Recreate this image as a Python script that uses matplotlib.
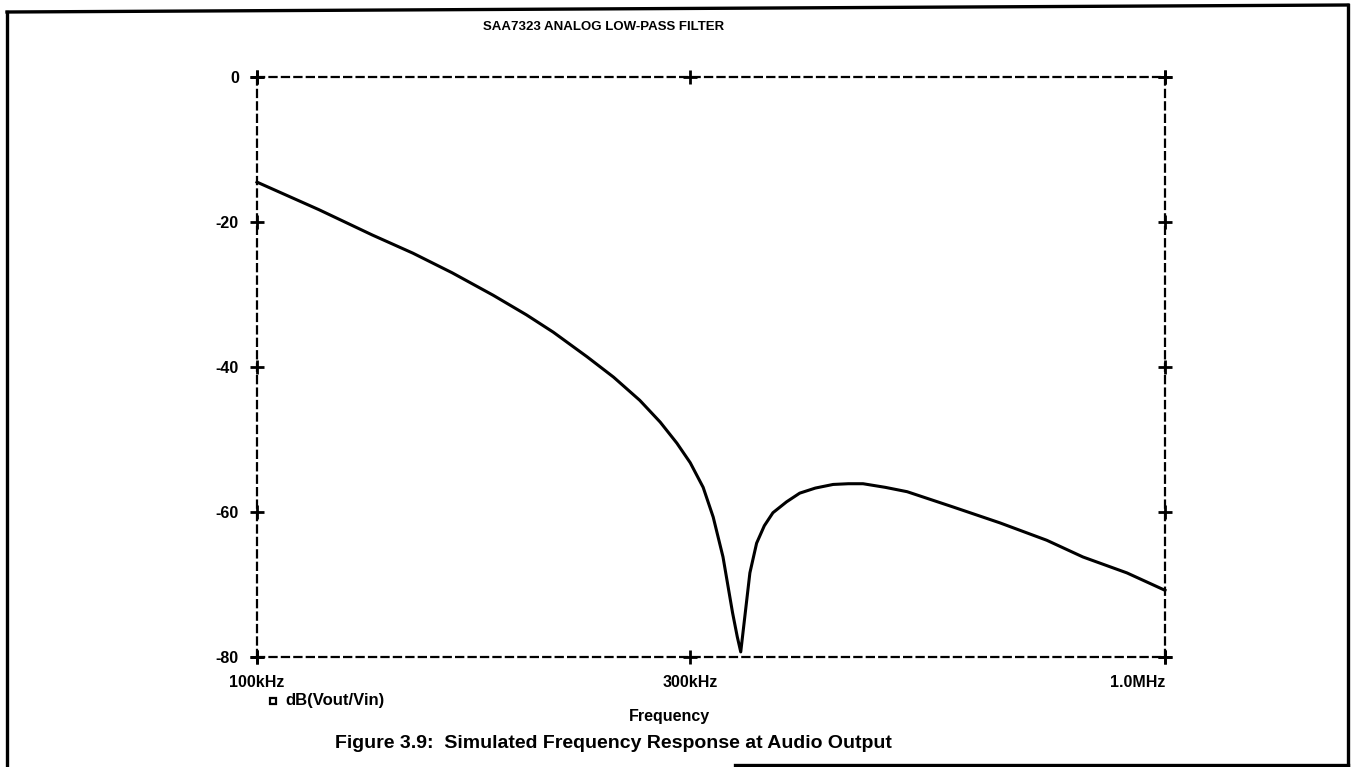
import matplotlib
matplotlib.use("Agg")
import matplotlib.pyplot as plt
from matplotlib.lines import Line2D

plt.rcParams["font.family"] = ["Liberation Sans", "DejaVu Sans"]
plt.rcParams["font.weight"] = "bold"

# Simulated response of the analog low-pass filter
freq_khz = [100, 117, 134, 148.5, 164, 182, 198, 212, 231, 247, 264, 278, 290,
            300, 310, 318, 326, 334, 338, 341, 349, 355, 362, 370, 383, 396,
            412, 431, 448, 465, 492, 520, 584, 658, 741, 812, 908, 1000]
gain_db = [-14.5, -18.3, -21.8, -24.3, -27.0, -30.1, -32.8, -35.2, -38.6, -41.4,
           -44.6, -47.6, -50.5, -53.2, -56.6, -60.7, -66.2, -73.9, -77.2, -79.3,
           -68.4, -64.3, -61.9, -60.1, -58.6, -57.4, -56.7, -56.2, -56.1, -56.1,
           -56.6, -57.2, -59.3, -61.5, -63.9, -66.2, -68.4, -70.8]

x_ticks = [100, 300, 1000]
x_tick_labels = ["100kHz", "300kHz", "1.0MHz"]
y_ticks = [0, -20, -40, -60, -80]
y_tick_labels = ["0", "-20", "-40", "-60", "-80"]

title = "SAA7323 ANALOG LOW-PASS FILTER"
x_label = "Frequency"
trace_name = "dB(Vout/Vin)"
caption = "Figure 3.9:  Simulated Frequency Response at Audio Output"

W, H = 1354, 767
fig = plt.figure(figsize=(W / 100, H / 100), dpi=100)
fig.patch.set_facecolor("white")

def fx(px):
    return px / W

def fy(py):
    return 1 - py / H

ax = fig.add_axes([fx(257), fy(657), fx(1165) - fx(257), fy(77) - fy(657)])
ax.set_xscale("log")
ax.set_xlim(x_ticks[0], x_ticks[-1])
ax.set_ylim(y_ticks[-1], y_ticks[0])

ax.plot(freq_khz, gain_db, color="black", lw=2.2, solid_joinstyle="round",
        clip_on=False)

# dashed plot border
for s in ax.spines.values():
    s.set_linestyle((0, (3.2, 2.4)))
    s.set_linewidth(1.6)
    s.set_color("black")

# tick labels, no native tick marks
ax.set_xticks(x_ticks)
ax.set_xticklabels(x_tick_labels)
ax.xaxis.set_minor_locator(matplotlib.ticker.NullLocator())
ax.set_yticks(y_ticks)
ax.set_yticklabels(y_tick_labels)
ax.tick_params(length=0, labelsize=11.5)
ax.tick_params(axis="x", pad=13)
ax.tick_params(axis="y", pad=13)
ax.get_xticklabels()[-1].set_ha("right")
for lbl in ax.get_xticklabels() + ax.get_yticklabels():
    lbl.set_fontweight("bold")

# "+" crosses at tick positions around the border
cross = dict(marker="+", ms=10, mew=2.0, color="black", ls="none", clip_on=False)
ax.plot([x_ticks[0]] * len(y_ticks), y_ticks, **cross)
ax.plot([x_ticks[-1]] * len(y_ticks), y_ticks, **cross)
ax.plot(x_ticks, [y_ticks[-1]] * len(x_ticks), **cross)
ax.plot(x_ticks, [y_ticks[0]] * len(x_ticks), **cross)

# text
fig.text(fx(604), fy(27), title, ha="center", va="center", fontsize=9.5,
         fontweight="bold")
fig.text(fx(669), fy(717), x_label, ha="center", va="center", fontsize=11.5,
         fontweight="bold")
fig.text(fx(285), fy(700), trace_name, ha="left", va="center", fontsize=12,
         fontweight="bold")
fig.add_artist(Line2D([fx(273)], [fy(701)], marker="s", ms=4.5, mfc="white",
                      mec="black", mew=1.6, transform=fig.transFigure))
fig.text(fx(613), fy(744), caption, ha="center", va="center", fontsize=14,
         fontweight="bold")

# page frame
frame = dict(color="black", lw=2.4, transform=fig.transFigure,
             solid_capstyle="projecting")
fig.add_artist(Line2D([fx(7), fx(1348)], [fy(12), fy(5)], **frame))
fig.add_artist(Line2D([fx(7), fx(7)], [fy(12), fy(767)], **frame))
fig.add_artist(Line2D([fx(1348), fx(1348)], [fy(5), fy(767)], **frame))
fig.add_artist(Line2D([fx(735), fx(1348)], [fy(765), fy(765)], **frame))

fig.savefig("out.png", dpi=100, facecolor="white")
